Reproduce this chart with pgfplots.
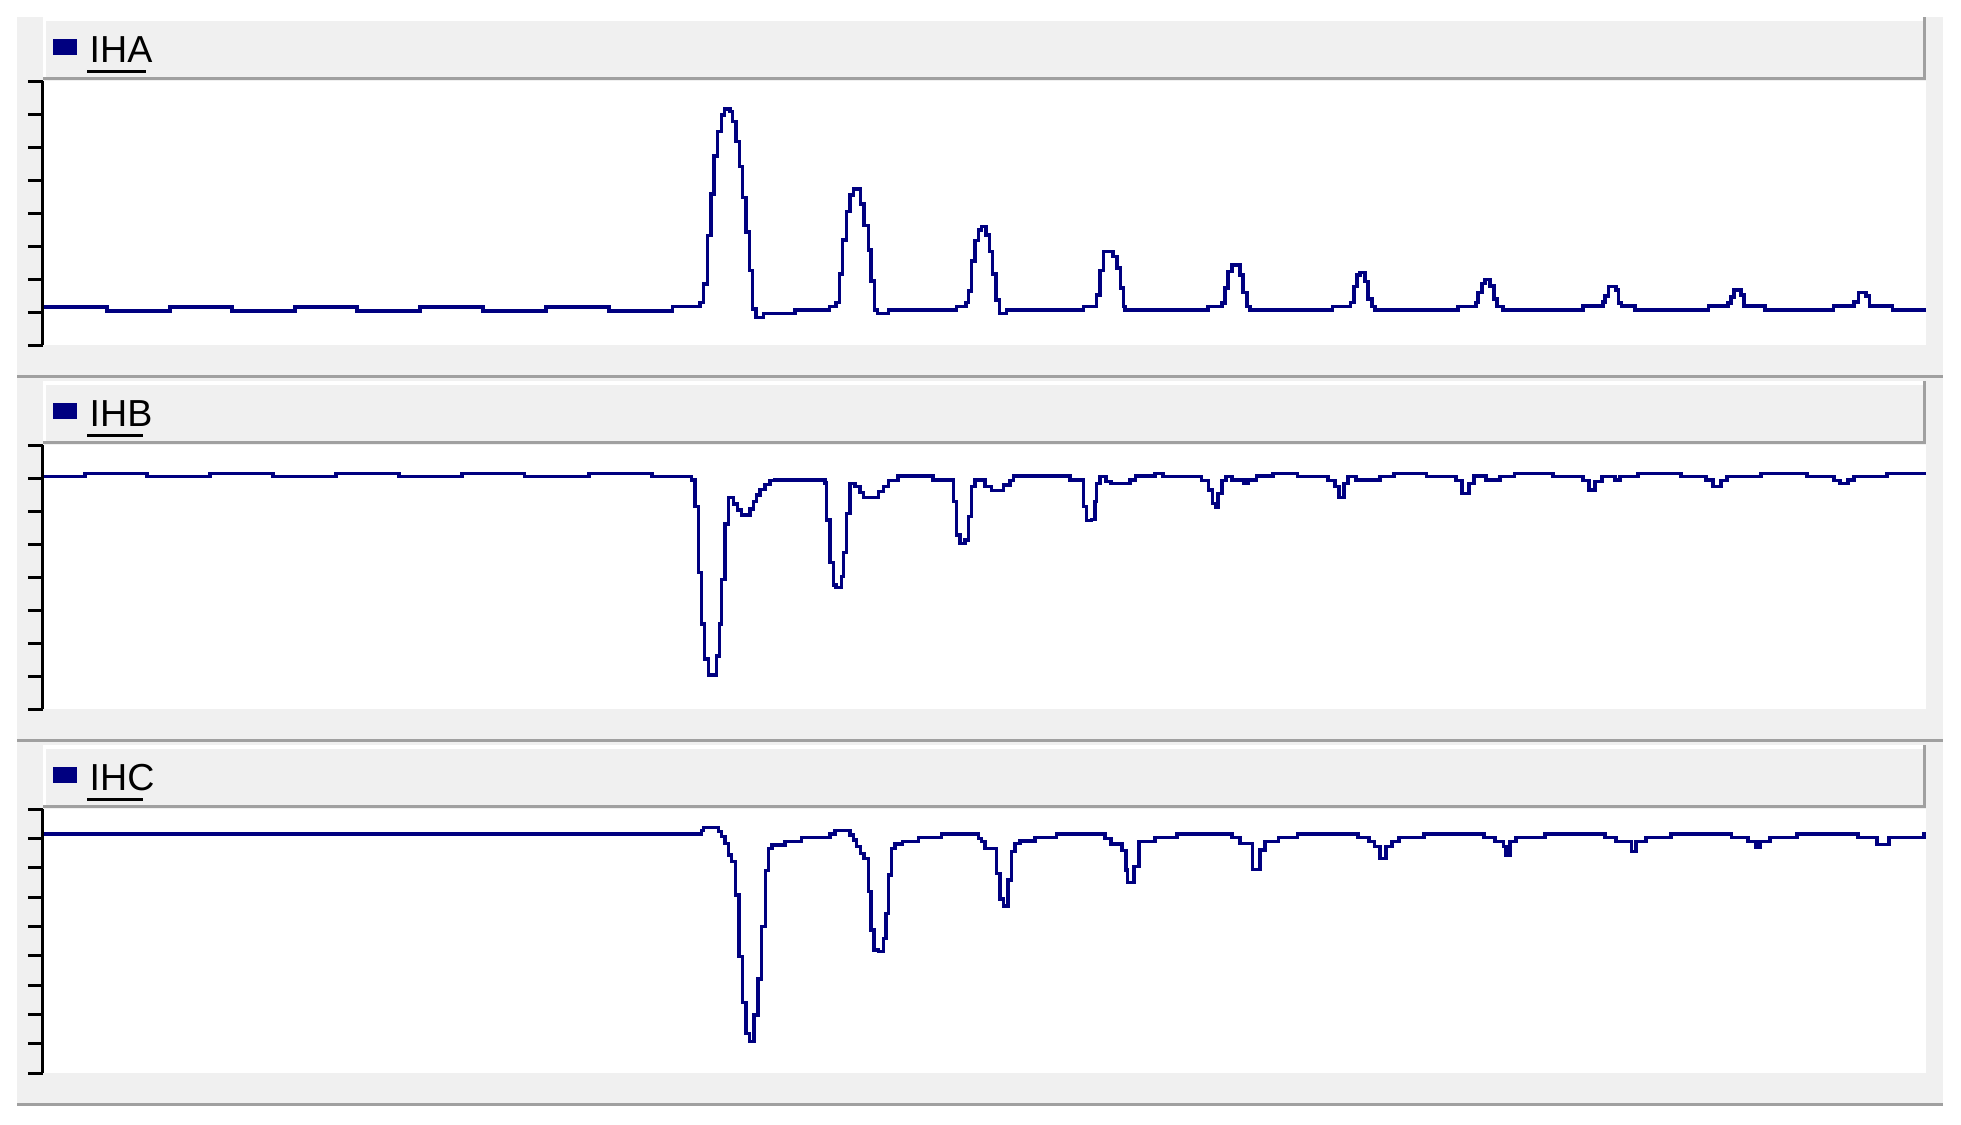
\documentclass[border=0pt]{standalone}
\usepackage{fontspec}
\setmainfont{Liberation Sans}
\usepackage{pgfplots}
\pgfplotsset{compat=1.18}

\definecolor{navytrace}{RGB}{0,0,128}
\definecolor{panelgray}{RGB}{240,240,240}
\definecolor{edgegray}{RGB}{160,160,160}

% one axis per channel, 1 unit = 1 screen pixel
\pgfplotsset{
  panel/.style={
    anchor=north west, x=0.1mm, y=0.1mm, y dir=reverse,
    xmin=43, xmax=1926, enlargelimits=false,
    axis x line=none, axis y line*=left,
    y axis line style={black, line width=0.3mm},
    xtick=\empty, yticklabels={},
    tick align=outside, major tick length=1.5mm,
    ytick style={black, line width=0.3mm},
    axis background/.style={fill=white},
  },
  wave/.style={const plot, color=navytrace, line width=0.34mm, mark=none},
}

% #1 top of panel, #2 channel name, #3 right end of underline
\newcommand{\panelhead}[3]{%
  \fill[white] (43,#1) rectangle (1926,{#1+4});
  \fill[white] (43,{#1+4}) rectangle (45.5,{#1+61});
  \fill[edgegray] (43,{#1+60}) rectangle (1926,{#1+62.5});
  \fill[edgegray] (1923,#1) rectangle (1926,{#1+62.5});
  \fill[navytrace] (52.7,{#1+21.5}) rectangle (77,{#1+38});
  \node[anchor=base west, inner sep=0pt, font=\fontsize{10.7pt}{12pt}\selectfont] at (89,{#1+45.3}) {#2};
  \fill[black] (87,{#1+52.5}) rectangle (#3,{#1+55.5});
  \fill[edgegray] (17,{#1+358}) rectangle (1943,{#1+361});
}

\begin{document}
\begin{tikzpicture}[x=0.1mm,y=-0.1mm]
\useasboundingbox (0,0) rectangle (1961,1124);
\fill[white] (0,0) rectangle (1961,1124);
\fill[panelgray] (17,17) rectangle (1943,1103);
\panelhead{17}{IHA}{146}
\panelhead{381}{IHB}{143}
\panelhead{745}{IHC}{143}

% IHA
\begin{axis}[panel, at={(4.3mm,-8.1mm)}, ymin=81, ymax=345, ytick={81,114,...,345}]
\addplot[wave] coordinates {
(44,307)(107,311)(170,307)(232,311)(295,307)(357,311)(420,307)(483,311)(546,307)(609,311)
(672.7,306.7)(700,302.7)(703.3,284)(707.7,235.7)(711,194)(714,156)(717.7,131.7)(721.7,115)(724.3,109)
(730,111.7)(732.7,121.7)(736,141.7)(739.3,166.7)(742.7,197.7)(746,232)(749.3,270.7)(752.7,309)
(756,317.7)(763.3,313.3)(795,310)(829.3,306.7)
(836,302.7)(839.3,274)(842.7,240)(846.7,211.7)(850,195)(853.3,189)(860.7,204)(864,225.7)(868.3,250)
(871,281)(874.3,310)(877.7,313.3)(888.3,310)(956.7,306.7)
(966,302.7)(968.3,291)(971.7,261)(975,240.7)(978.3,230)(981.7,226.7)(986,235)(989.3,251.7)(992.7,274)
(996,300)(999.3,313.3)(1006.7,310)(1083.3,306.7)
(1096.7,295)(1100,270.7)(1103.5,251.5)(1113,256.7)(1117,268)(1120.7,288)(1123.3,306.7)(1125,310)
(1208,306.7)(1222,303)(1225,288)(1228,271.7)(1232,265)(1240,275)(1243,292.7)(1247,306.7)(1250,310)
(1332.7,306.7)(1350.7,302.7)(1354,286.7)(1357,275)(1360,272.3)(1365,281.7)(1368,299)(1372,306.7)(1375,310)
(1458,306.7)(1476,302.7)(1478,292.7)(1482,283.3)(1485,279.3)(1490,286)(1494,299)(1497,306.7)(1503,310)
(1583,306)(1603,302)(1605,296)(1608.3,286.7)(1616,290)(1618.3,303)(1621.7,306)(1635,310)
(1708.3,306)(1728,303)(1731,297)(1734,290)(1741,295)(1744,306)(1765,310)
(1833.3,306)(1854,302)(1858.3,292.5)(1866,296)(1869.3,306)(1892.7,310)(1926,310)
};
\end{axis}

% IHB
\begin{axis}[panel, at={(4.3mm,-44.5mm)}, ymin=445, ymax=709, ytick={445,478,...,709}]
\addplot[wave] coordinates {
(44,476.7)(85,473.3)(147,476.7)(210,473.3)(273,476.7)(336,473.3)(399,476.7)(462,473.3)(524.5,476.7)(589,473.3)(652,476.7)
(691.7,480)(695,506.7)(698.3,572.7)(701.7,624)(704.3,659)(708.3,675)(716.7,656)(719.3,624)(721.7,579.3)
(725,524)(728.3,497.3)(733.3,504)(737.3,510)(741.7,515)(750,509)(753.3,501.7)(756.7,495)(760,489.3)
(765,484.3)(770,480.7)(775,480)
(825,483)(826.7,520)(830,562.7)(833.3,585)(836,587.7)(841.7,576.7)(843.3,552.3)(846.7,513.3)(850,483.3)
(855,486.7)(860,492.7)(863.3,497.3)(878.3,491.7)(883.3,486.7)(888.3,480.7)(898,476)(933,480)
(953.3,501.7)(956.7,535)(960,543.3)(965,540)(968.3,516.7)(971.7,486.7)(975,480)(985,486.7)(991.7,490.7)
(1003.3,485)(1010,480.7)(1013.3,476)(1070,480)
(1083.3,506.7)(1086.7,520.7)(1091.7,519.3)(1095,501.7)(1096.7,483.3)(1100,476.7)(1106,481.7)(1111,483.3)
(1130,480)(1135.7,476)(1155,473.3)(1163,476.7)
(1201.6,480.7)(1208.7,490)(1212.6,503.3)(1215.3,507.7)(1218,493.3)(1222,480.7)(1226,476.7)(1231.8,480)
(1244,483.3)(1248,480)(1256.5,476)(1273,473.3)(1297.7,476.7)
(1328,480.7)(1335,486.7)(1339,497.3)(1344,483.3)(1348,476.7)(1356,480)(1380,476.7)(1394,473.3)(1426.7,476.7)
(1456,480.7)(1462,493.3)(1469,483.3)(1474,476)(1486,480)(1500,476.7)(1514.6,473.3)(1553,476.7)
(1583,480.7)(1589,490)(1595,481.7)(1602,476.7)(1615,480)(1620,476.7)(1638,473.3)(1681,476.7)
(1706,480)(1713,486.7)(1721,480.7)(1727,476.7)(1761,473.3)(1807,476.7)
(1834,480.7)(1840,483.3)(1848,480)(1854,476.7)(1887,473.3)(1926,473.3)
};
\end{axis}

% IHC
\begin{axis}[panel, at={(4.3mm,-80.9mm)}, ymin=809, ymax=1073,
  ytick={809,838.33,867.67,897,926.33,955.67,985,1014.33,1043.67,1073}]
\addplot[wave] coordinates {
(44,834)(701.7,830.7)(703.3,827.3)(718.3,831.7)(721.7,836.7)(725,843.3)(728.3,855)(731.7,861.7)
(735.7,895)(739,956.7)(742.7,1002.3)(746,1033.3)(749.3,1041.7)(754,1015)(758,979)(761.7,926.7)
(765.3,870.7)(768.7,848.3)(772,845)(785,841.7)(801.7,837.3)(830,834)(835,830.7)
(850,835)(853.3,840)(856.7,846.7)(860.7,853.3)(864,858.3)(868.3,891.7)(871,930)(874,950)(878.3,951.7)
(883.3,938.3)(886,913.3)(888.3,875)(891.7,848.3)(895,844)(902.7,841.7)(918.3,837.3)(941.7,834)
(978.3,838.3)(981.7,841.7)(985,848.3)(996.7,873.3)(1000,899)(1003.3,906)(1008,880)(1011.5,851.7)
(1015,843.3)(1020,841)(1035,837.7)(1056.7,834)
(1105,838.3)(1111,844)(1122,850.7)(1125.8,870)(1127.5,882.7)(1134,866.7)(1139,841.7)(1155,837.7)(1177,834)
(1232,837.7)(1240,843.3)(1252.7,869.3)(1260,850)(1265,841.7)(1278.5,837.7)(1297.7,834)
(1358,837.7)(1369,841.7)(1374.6,846.7)(1380,858.3)(1386,846.7)(1392,841.7)(1399,837.7)(1424,834)
(1484,837.7)(1495,841.7)(1503.6,846.7)(1506,855)(1510,841.7)(1516,837.7)(1545,834)
(1605,837.7)(1616,841.7)(1631.6,851.7)(1636,841.7)(1646,837.7)(1671,834)
(1731.5,837.7)(1748,841.7)(1756,847.3)(1760,841.7)(1770,837.7)(1797,834)
(1858,837.7)(1877,844.3)(1889,837.7)(1924,834)(1926,834)
};
\end{axis}
\end{tikzpicture}
\end{document}
